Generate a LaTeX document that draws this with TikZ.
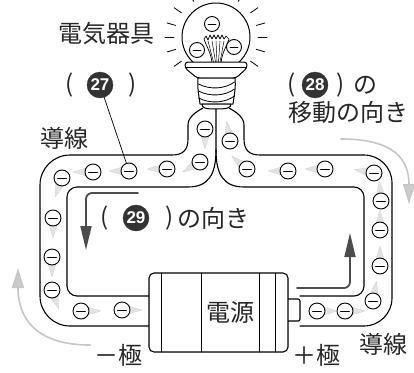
\documentclass[tikz,border=0pt]{standalone}
\usepackage{fontspec}
\setmainfont{Noto Sans CJK JP}
\newfontfamily\numfont{Liberation Sans}
\usetikzlibrary{calc,arrows.meta}

% one electron: name, x, y, direction of its motion streak
\newcommand\elec[4]{%
  \fill[tail] ($(#2,#3)+(#4+90:6pt)$) -- ($(#2,#3)+(#4:20pt)$) -- ($(#2,#3)+(#4-90:6pt)$) -- cycle;
  \node[electron] (#1) at (#2,#3) {};
  \draw[line width=0.9pt] ($(#1.center)+(-4.5,0)$) -- ($(#1.center)+(4.5,0)$);
}
% electron without streak (inside the bulb)
\newcommand\gelec[3]{%
  \node[electron, minimum size=15pt] (#1) at (#2,#3) {};
  \draw[line width=0.8pt] ($(#1.center)+(-4,0)$) -- ($(#1.center)+(4,0)$);
}

\begin{document}
\begin{tikzpicture}[x=1pt,y=-1pt,
  line cap=round, line join=round,
  wire/.style={line width=1.1pt},
  jp/.style={inner sep=0pt, font=\fontsize{24}{28}\selectfont, text=black!85},
  badge/.style={circle, fill=black!80, draw=black!80, minimum size=26pt, inner sep=0pt,
    text=white, font=\numfont\bfseries\fontsize{17}{17}\selectfont},
  electron/.style={circle, draw, line width=0.9pt, fill=white, minimum size=16pt, inner sep=0pt},
  tail/.style={fill=gray!22, draw=gray!38, line width=0.3pt},
  current/.style={line width=1.8pt, draw=black!70,
    -{Triangle[length=24pt,width=11pt,fill=black!70]}},
  motion/.style={line width=1.6pt, draw=gray!45,
    -{Triangle[length=20pt,width=12pt,fill=gray!40]}},
  ray/.style={line width=0.8pt}
]
\useasboundingbox (0,0) rectangle (414,372);

% ---- bulb: rays and globe
\coordinate (g) at (216,37);
\foreach \a in {58,35,16,0,-17,-35,122,145,164,180,197,215}
  \draw[ray] ($(g)+(\a:42pt)$) -- ($(g)+(\a:51pt)$);
\draw[line width=1pt, fill=white] (g) circle[radius=34pt];

% filament
\draw[line width=0.7pt, fill=white] (212,63) .. controls (211,52) and (206,46) .. (204,39)
  -- (206,36) -- (208,40) -- (210,35) -- (212,39) -- (214,35) -- (216,39) -- (218,35)
  -- (220,39) -- (222,35) -- (224,39) -- (226,36) -- (229,39)
  .. controls (227,46) and (222,52) .. (221,63) -- cycle;
\foreach \tx/\bx in {208/213.5,212/215.5,216/217,220/218.5,224/220}
  \draw[line width=0.5pt] (\bx,62) -- (\tx,41);

% collar
\draw[line width=1pt, fill=white, rounded corners=3pt]
  (185,62) -- (247,62) -- (247,68) -- (236,78) -- (197,78) -- (185,68) -- cycle;
\draw[line width=0.8pt] (186,67.5) -- (246,67.5);
% screw thread
\draw[line width=1pt, fill=white] (198,78) .. controls (197,88) and (199,96) .. (200,104)
  -- (233,104) .. controls (234,96) and (236,88) .. (235,78) -- cycle;
\foreach \y in {84,91,98}
  \draw[line width=0.8pt] (198.5,\y) .. controls (210,\y+6) and (225,\y+5) .. (234.5,\y-2);
% base cap
\draw[line width=1pt, fill=white] (202,104) -- (231,104) .. controls (231,108) and (227,109) .. (216,109)
  .. controls (205,109) and (202,108) .. (202,104) -- cycle;

% ---- conductor (outer and inner outlines)
\draw[wire] (150,326) -- (70,326) .. controls (53.4,326) and (40,312.6) .. (40,296)
  -- (40,185) .. controls (40,168.4) and (53.4,155) .. (70,155) -- (172,155)
  .. controls (183,155) and (188,150) .. (188,139) -- (188,125)
  .. controls (188,117) and (196,112) .. (203,108);
\draw[wire] (229,108) .. controls (236,112) and (244,117) .. (244,125) -- (244,139)
  .. controls (244,150) and (249,155) .. (260,155) -- (364,155)
  .. controls (379.5,155) and (392,167.5) .. (392,183) -- (392,298)
  .. controls (392,313.5) and (379.5,326) .. (364,326) -- (300,326);
\draw[wire] (150,296) -- (77,296) .. controls (71.5,296) and (67,291.5) .. (67,286)
  -- (67,197) .. controls (67,191.5) and (71.5,187) .. (77,187) -- (188,187)
  .. controls (208,187) and (216,175) .. (216,150) -- (216,109);
\draw[wire] (216,150) .. controls (216,175) and (224,187) .. (244,187) -- (354,187)
  .. controls (359.5,187) and (364,191.5) .. (364,197) -- (364,286)
  .. controls (364,291.5) and (359.5,296) .. (354,296) -- (300,296);

% ---- power source
\draw[wire, fill=white, rounded corners=2pt] (288,299) -- (300,299) -- (300,321) -- (288,321);
\draw[wire, fill=white, rounded corners=5pt] (149,273) rectangle (288,352);
\foreach \x in {161,201,259,275}
  \draw[line width=0.9pt] (\x,273) -- (\x,352);
\node[jp] (src) at (230,312) {電源};

% ---- electrons in the bulb
\gelec{b1}{212}{24}
\gelec{b2}{197}{50}
\gelec{b3}{234}{47}

% ---- electrons along the conductor
\elec{e1}{62}{178}{250}
\elec{e2}{93}{172}{180}
\elec{e3}{129}{171}{180}
\elec{e4}{167}{169}{180}
\elec{e5}{200}{162}{210}
\elec{e6}{205}{129}{270}
\elec{e7}{230}{141}{100}
\elec{e8}{247}{169}{140}
\elec{e9}{288}{171}{180}
\elec{e10}{325}{169}{180}
\elec{e11}{374}{173}{170}
\elec{e12}{381}{201}{95}
\elec{e13}{380}{230}{90}
\elec{e14}{380}{266}{90}
\elec{e15}{373}{301}{80}
\elec{e16}{345}{311}{0}
\elec{e17}{317}{311}{0}
\elec{e18}{122}{310}{0}
\elec{e19}{81}{311}{0}
\elec{e20}{52}{290}{290}
\elec{e21}{52}{257}{270}
\elec{e22}{53}{218}{270}

% ---- direction arrows
\coordinate (c1s) at (138,193);
\coordinate (c1e) at (86,250);
\draw[current] (c1s) -- (92,193) .. controls (88.7,193) and (86,195.7) .. (86,199) -- (c1e);
\coordinate (c2s) at (297,288);
\coordinate (c2e) at (350,233);
\draw[current] (c2s) -- (344,288) .. controls (347.3,288) and (350,285.3) .. (350,282) -- (c2e);
\coordinate (m1s) at (341,139);
\coordinate (m1e) at (409,204);
\draw[motion] (m1s) .. controls (395,139) and (409,160) .. (m1e);
\coordinate (m2s) at (90,345);
\coordinate (m2e) at (18,268);
\draw[motion] (m2s) .. controls (40,345) and (18,322) .. (m2e);

% ---- labels
\node[jp] (t1) at (106,33) {電気器具};
\node[jp] (p1) at (70,85) {(};
\node[badge] (n27) at (100,85) {27};
\node[jp] (q1) at (133,85) {)};
\draw[line width=0.7pt] (n27) -- (e3);
\node[jp] (t2) at (64,138) {導線};

\node[jp] (p2) at (292,85) {(};
\node[badge] (n28) at (315,85) {28};
\node[jp] (q2) at (341,85) {)};
\node[jp] (t3) at (365,85) {の};
\node[jp] (t4) at (348,112) {移動の向き};

\node[jp] (p3) at (105,218) {(};
\node[badge] (n29) at (136,218) {29};
\node[jp] (q3) at (170,218) {)};
\node[jp] (t5) at (213.5,218) {の向き};

\node[jp] (t6) at (118,355) {－極};
\node[jp] (t7) at (316,355) {＋極};
\node[jp] (t8) at (383,344) {導線};
\end{tikzpicture}
\end{document}
